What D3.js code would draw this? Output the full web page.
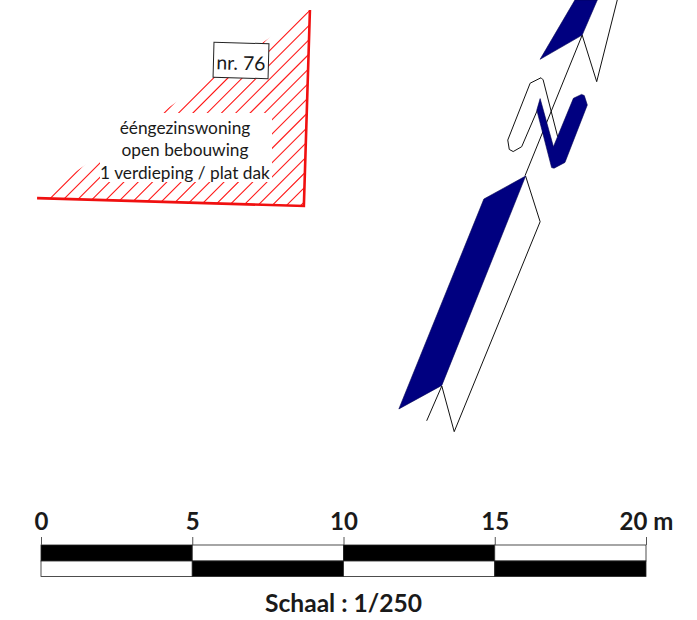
<!DOCTYPE html>
<html>
<head>
<meta charset="utf-8">
<script src="https://cdn.jsdelivr.net/npm/d3@7"></script>
<style>
  html, body { margin: 0; padding: 0; background: #fff; }
  svg { display: block; }
  text { font-family: Lato, "Open Sans", sans-serif; fill: #1a1a1a; }
</style>
</head>
<body>
<div id="plan"></div>
<script>
// alle maten in meter, gelezen van de schaalbalk
const scaleTicks = [0, 5, 10, 15, 20];
const scaleLabels = ["0", "5", "10", "15", "20 m"];
const scaleTopRow = [1, 0, 1, 0];
const scaleBottomRow = [0, 1, 0, 1];

const plotOutline = [[-0.13, 6.55], [8.69, 6.81], [8.89, 0.33]];
const hatchStarts = d3.range(-0.135, 17, 0.473);

const blueTop = [[17.65, 0], [18.39, 0], [17.89, 1.16], [16.5, 1.96]];
const blueMiddle = [[16.5, 3.26], [16.39, 3.64], [16.88, 5.54], [16.96, 5.56], [17.32, 5.37],
  [18.06, 3.47], [17.96, 3.16], [17.87, 3.12], [17.6, 3.25], [16.94, 4.85]];
const blueBottom = [[16.02, 5.82], [14.64, 6.58], [11.83, 13.52], [13.25, 12.74]];

const wallTop = [[19.05, 0], [18.37, 2.7], [17.89, 1.16], [16, 5.81]];
const wallMiddle = [[17.08, 4.52], [16.6, 2.64], [16.53, 2.57], [16.17, 2.75], [15.43, 4.63],
  [15.48, 4.94], [15.61, 5.01], [15.89, 4.85], [16.41, 3.64]];
const wallBottom = [[16.02, 5.82], [16.5, 7.33], [13.66, 14.27], [13.25, 12.76], [12.75, 13.91]];

const houseLabel = ["ééngezinswoning", "open bebouwing", "1 verdieping / plat dak"];
const houseNumber = "nr. 76";
const scaleTitle = "Schaal : 1/250";

const width = 697;
const height = 620;
const x = d3.scaleLinear().domain([0, 20]).range([41, 646]);
const y = d3.scaleLinear().domain([0, 20]).range([0, 605]);
const line = d3.line().x(d => x(d[0])).y(d => y(d[1]));

const svg = d3.select("#plan").append("svg")
  .attr("width", width)
  .attr("height", height);

// arcering van het perceel
svg.append("clipPath").attr("id", "plot-clip")
  .append("path").attr("d", line(plotOutline) + "Z");

const hatchPath = d3.path();
hatchStarts.forEach(d => {
  hatchPath.moveTo(x(d), y(7));
  hatchPath.lineTo(x(d + 7), y(0));
});

svg.append("g")
  .attr("clip-path", "url(#plot-clip)")
  .append("path")
  .attr("d", hatchPath.toString())
  .attr("fill", "none")
  .attr("stroke", "#ff1a1a")
  .attr("stroke-width", 1.1);

// witte achtergrond achter de tekst
svg.append("rect")
  .attr("x", 100).attr("y", 113)
  .attr("width", 172).attr("height", 69)
  .attr("fill", "#fff");

svg.append("path")
  .attr("d", line(plotOutline))
  .attr("fill", "none")
  .attr("stroke", "#f01010")
  .attr("stroke-width", 2.6);

svg.append("g")
  .selectAll("text")
  .data(houseLabel)
  .enter()
  .append("text")
  .attr("x", 185)
  .attr("y", (d, i) => 134 + i * 22.3)
  .attr("text-anchor", "middle")
  .style("font-size", "17.3px")
  .text(d => d);

// nummerbordje, staat iets scheef
const numberTag = svg.append("g").attr("transform", "translate(241,61) rotate(1.5)");
numberTag.append("rect")
  .attr("x", -27.5).attr("y", -18)
  .attr("width", 55).attr("height", 35)
  .attr("fill", "#fff")
  .attr("stroke", "#222")
  .attr("stroke-width", 1);
numberTag.append("text")
  .attr("y", 9)
  .attr("text-anchor", "middle")
  .style("font-size", "19.4px")
  .text(houseNumber);

// gebouw
svg.append("g")
  .selectAll("path")
  .data([wallTop, wallMiddle, wallBottom])
  .enter()
  .append("path")
  .attr("d", line)
  .attr("fill", "none")
  .attr("stroke", "#111")
  .attr("stroke-width", 1);

svg.append("g")
  .selectAll("path")
  .data([blueTop, blueMiddle, blueBottom])
  .enter()
  .append("path")
  .attr("d", d => line(d) + "Z")
  .attr("fill", "#000080")
  .attr("stroke", "#000050")
  .attr("stroke-width", 0.6);

// schaalbalk
const scaleBar = svg.append("g");
const segments = d3.pairs(scaleTicks);

scaleBar.selectAll("rect.top")
  .data(segments)
  .enter()
  .append("rect")
  .attr("class", "top")
  .attr("x", d => x(d[0]))
  .attr("y", 545)
  .attr("width", d => x(d[1]) - x(d[0]))
  .attr("height", 16)
  .attr("fill", (d, i) => scaleTopRow[i] ? "#000" : "#fff")
  .attr("stroke", "#222")
  .attr("stroke-width", 0.8);

scaleBar.selectAll("rect.bottom")
  .data(segments)
  .enter()
  .append("rect")
  .attr("class", "bottom")
  .attr("x", d => x(d[0]))
  .attr("y", 561)
  .attr("width", d => x(d[1]) - x(d[0]))
  .attr("height", 15.5)
  .attr("fill", (d, i) => scaleBottomRow[i] ? "#000" : "#fff")
  .attr("stroke", "#222")
  .attr("stroke-width", 0.8);

const scaleAxis = d3.axisTop(x)
  .tickValues(scaleTicks)
  .tickSize(8)
  .tickPadding(7)
  .tickFormat((d, i) => scaleLabels[i]);

const axisG = svg.append("g")
  .attr("transform", "translate(0,545)")
  .call(scaleAxis);
axisG.select(".domain").remove();
axisG.selectAll(".tick line").attr("stroke", "#555");
axisG.selectAll(".tick text")
  .attr("fill", "#111")
  .style("font-family", "Lato, 'Open Sans', sans-serif")
  .style("font-size", "24px")
  .style("font-weight", "bold");

svg.append("text")
  .attr("x", 343.5)
  .attr("y", 612)
  .attr("text-anchor", "middle")
  .style("font-size", "24.6px")
  .style("font-weight", "bold")
  .text(scaleTitle);
</script>
</body>
</html>
